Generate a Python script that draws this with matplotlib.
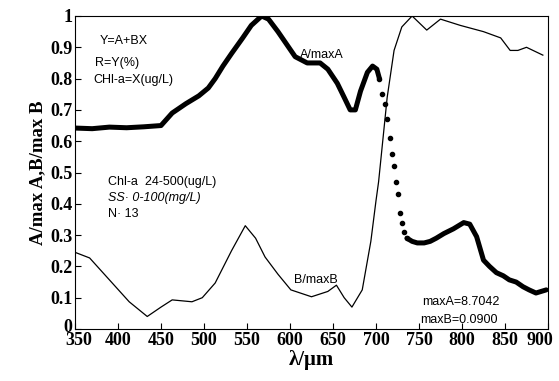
import matplotlib
matplotlib.use("Agg")
import matplotlib.pyplot as plt
import matplotlib.transforms as mtransforms
import numpy as np

# A/maxA (thick dotted curve)
a_x = [350, 370, 390, 410, 430, 450, 463, 479, 494, 505, 513, 522, 532, 545, 555, 567, 575, 586,
       596, 606, 620, 635, 644, 655, 663, 670, 676, 682, 690, 696, 701, 704,
       707, 710, 713, 716, 719, 721, 723, 725, 728, 730, 733,
       736, 742, 748, 756, 763, 770, 779, 790, 802, 809, 817, 825, 832, 840, 848, 855, 863, 871, 878, 886, 892, 898]
a_y = [0.642, 0.640, 0.645, 0.643, 0.646, 0.650, 0.69, 0.72, 0.745, 0.77, 0.80, 0.84, 0.88, 0.93, 0.97, 1.00, 0.99, 0.95,
       0.91, 0.87, 0.85, 0.85, 0.83, 0.785, 0.74, 0.70, 0.70, 0.76, 0.82, 0.84, 0.83, 0.80,
       0.75, 0.72, 0.67, 0.61, 0.56, 0.52, 0.47, 0.43, 0.37, 0.34, 0.31,
       0.29, 0.28, 0.275, 0.275, 0.28, 0.29, 0.305, 0.32, 0.34, 0.335, 0.295, 0.22, 0.20, 0.18, 0.17, 0.157, 0.15, 0.135, 0.125, 0.115, 0.12, 0.125]

# B/maxB (thin line)
b_x = [350, 367, 390, 413, 434, 450, 463, 486, 498, 513, 532, 548, 560, 571, 586, 601, 625, 644, 654, 663, 672,
       684, 694, 700, 703, 713, 721, 730, 742, 759, 775, 798, 825, 845, 856, 865, 875, 894]
b_y = [0.245, 0.227, 0.157, 0.087, 0.04, 0.07, 0.093, 0.087, 0.10, 0.147, 0.25, 0.33, 0.29, 0.23, 0.175, 0.125, 0.103, 0.12, 0.14, 0.10, 0.07,
       0.125, 0.28, 0.41, 0.47, 0.74, 0.89, 0.965, 1.0, 0.955, 0.99, 0.97, 0.95, 0.93, 0.89, 0.89, 0.90, 0.875]

x_ticks = [350, 400, 450, 500, 550, 600, 650, 700, 750, 800, 850, 900]
y_ticks = [0, 0.1, 0.2, 0.3, 0.4, 0.5, 0.6, 0.7, 0.8, 0.9, 1]
y_labels = ["0", "0.1", "0.2", "0.3", "0.4", "0.5", "0.6", "0.7", "0.8", "0.9", "1"]

fig = plt.figure(figsize=(5.59, 3.81), dpi=100)
ax = fig.add_axes([75/559, 1-329/381, (548-75)/559, (329-16)/381])

ax_arr = np.array(a_x)
ay_arr = np.array(a_y)
solid1 = ax_arr <= 706
solid2 = ax_arr >= 736
dots = (ax_arr >= 704) & (ax_arr <= 740)
ax.plot(ax_arr[solid1], ay_arr[solid1], color="black", lw=3.6, solid_capstyle="round")
ax.plot(ax_arr[solid2], ay_arr[solid2], color="black", lw=3.6, solid_capstyle="round")
ax.plot(ax_arr[dots], ay_arr[dots], "o", color="black", ms=3)
ax.plot(b_x, b_y, color="black", lw=0.9)

ax.set_xlim(350, 898)
ax.set_ylim(0, 1)
ax.set_xticks(x_ticks)
ax.set_yticks(y_ticks)
ax.set_yticklabels(y_labels)
ax.tick_params(direction="in", length=4, width=0.8, pad=2)
for lab in ax.get_xticklabels() + ax.get_yticklabels():
    lab.set_fontfamily("Liberation Serif")
    lab.set_fontweight("bold")
    lab.set_fontsize(13)
# nudge edge labels as in the reference
xl = ax.get_xticklabels()
xl[-1].set_transform(xl[-1].get_transform() + mtransforms.ScaledTranslation(-8/100, 0, fig.dpi_scale_trans))
xl[0].set_transform(xl[0].get_transform() + mtransforms.ScaledTranslation(4/100, 0, fig.dpi_scale_trans))
yl = ax.get_yticklabels()
yl[0].set_transform(yl[0].get_transform() + mtransforms.ScaledTranslation(0, 4/100, fig.dpi_scale_trans))

ax.set_xlabel("λ/μm", fontfamily="Liberation Serif", fontweight="bold", fontsize=15, labelpad=1)
ax.set_ylabel("A/max A,B/max B", fontfamily="Liberation Serif", fontweight="bold", fontsize=13.5, labelpad=3)

sans = "Liberation Sans"
fs = 9
def px(xp, yp):
    return (xp/559, 1-yp/381)
fig.text(*px(100, 41), "Y=A+BX", fontfamily=sans, fontsize=fs, va="center")
fig.text(*px(95, 63), "R=Y(%)", fontfamily=sans, fontsize=fs, va="center")
fig.text(*px(93, 80), "CHl-a=X(ug/L)", fontfamily=sans, fontsize=fs, va="center")
fig.text(*px(108, 182), "Chl-a  24-500(ug/L)", fontfamily=sans, fontsize=fs, va="center")
fig.text(*px(108, 198), "SS· 0-100(mg/L)", fontfamily=sans, fontsize=fs, va="center", style="italic")
fig.text(*px(108, 214), "N· 13", fontfamily=sans, fontsize=fs, va="center")
fig.text(*px(300, 55), "A/maxA", fontfamily=sans, fontsize=fs, va="center")
fig.text(*px(294, 280), "B/maxB", fontfamily=sans, fontsize=fs, va="center")
fig.text(*px(422, 302), "maxA=8.7042", fontfamily=sans, fontsize=fs, va="center")
fig.text(*px(420, 320), "maxB=0.0900", fontfamily=sans, fontsize=fs, va="center")

fig.savefig("out.png", dpi=100)
